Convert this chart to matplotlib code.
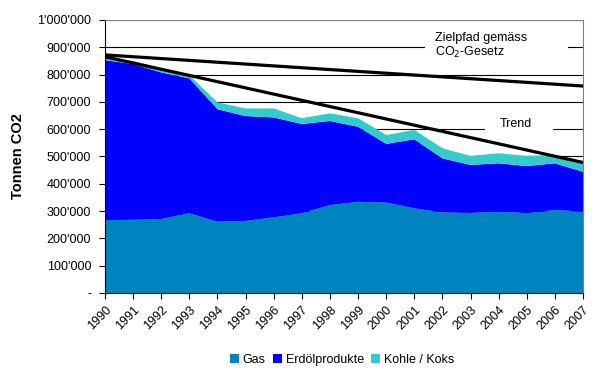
import matplotlib
matplotlib.use("Agg")
import matplotlib.pyplot as plt
from matplotlib.patches import Patch, Rectangle
from matplotlib.ticker import FuncFormatter, MultipleLocator

plt.rcParams['font.family'] = ['Liberation Sans', 'DejaVu Sans']

years = list(range(1990, 2008))
gas = [267000, 268000, 271000, 292000, 261000, 264000, 277000, 292000, 322000,
       334000, 331000, 310000, 295000, 293000, 299000, 292000, 304000, 298000]
erdoel = [586000, 570000, 537000, 494000, 412000, 384000, 366000, 327000, 308000,
          275000, 215000, 253000, 198000, 176000, 176000, 173000, 171000, 146000]
kohle = [15000, 12000, 15000, 12000, 25000, 28000, 33000, 21000, 28000,
         31000, 33000, 34000, 37000, 33000, 37000, 37000, 30000, 33000]
series_names = ["Gas", "Erdölprodukte", "Kohle / Koks"]
colors = ["#0083BE", "#0000FF", "#33CCCC"]

ziel_x = [1990, 2007]
ziel_y = [872000, 758000]
trend_x = [1990, 2007]
trend_y = [865000, 478000]

fig = plt.figure(figsize=(5.98, 3.73), dpi=100)
ax = fig.add_axes([0.1756, 0.2145, 0.7994, 0.732])

# gridlines
for v in range(100000, 1000001, 100000):
    ax.axhline(v, color='black' if v < 1000000 else '#808080', lw=0.8, zorder=1)

ax.stackplot(years, gas, erdoel, kohle, colors=colors, zorder=2, lw=0)

# white boxes behind labels
ax.add_patch(Rectangle((2001.38, 835000), 5.09, 117000, facecolor='white',
                       edgecolor='none', zorder=3))
ax.add_patch(Rectangle((2003.51, 582000), 2.42, 66000, facecolor='white',
                       edgecolor='none', zorder=3))

ax.plot(ziel_x, ziel_y, color='black', lw=2.3, zorder=4, solid_capstyle='butt')
ax.plot(trend_x, trend_y, color='black', lw=2.3, zorder=4, solid_capstyle='butt')

ax.text(2001.75, 905000, "Zielpfad gemäss\nCO$_2$-Gesetz", fontsize=9,
        ha='left', va='center', zorder=5, linespacing=1.05)
ax.text(2004.6, 620000, "Trend", fontsize=9, ha='center', va='center', zorder=5)

ax.set_xlim(1990, 2007)
ax.set_ylim(0, 1000000)
ax.set_xticks(years)
ax.set_xticklabels([str(y) for y in years], rotation=45, ha='right', va='top',
                   rotation_mode='anchor', fontsize=9)
ax.yaxis.set_major_locator(MultipleLocator(100000))

def fmt(v, pos):
    if v == 0:
        return '-'
    return f"{int(round(v)):,}".replace(',', "'")

ax.yaxis.set_major_formatter(FuncFormatter(fmt))
ax.tick_params(axis='y', labelsize=9, length=4, direction='out', pad=6)
ax.tick_params(axis='x', length=4, direction='out', pad=4)
ax.set_ylabel("Tonnen CO2", fontsize=10.5, fontweight='bold', labelpad=9)

ax.spines['top'].set_color('#808080')
ax.spines['right'].set_color('#808080')
ax.spines['left'].set_color('black')
ax.spines['bottom'].set_color('black')

handles = [Patch(facecolor=c, edgecolor='none') for c in colors]
fig.legend(handles, series_names, loc='center', bbox_to_anchor=(0.572, 0.035),
           ncol=3, frameon=False, fontsize=9, handlelength=0.7, handleheight=0.7,
           handletextpad=0.3, columnspacing=0.6)

fig.savefig("out.png", dpi=100)
